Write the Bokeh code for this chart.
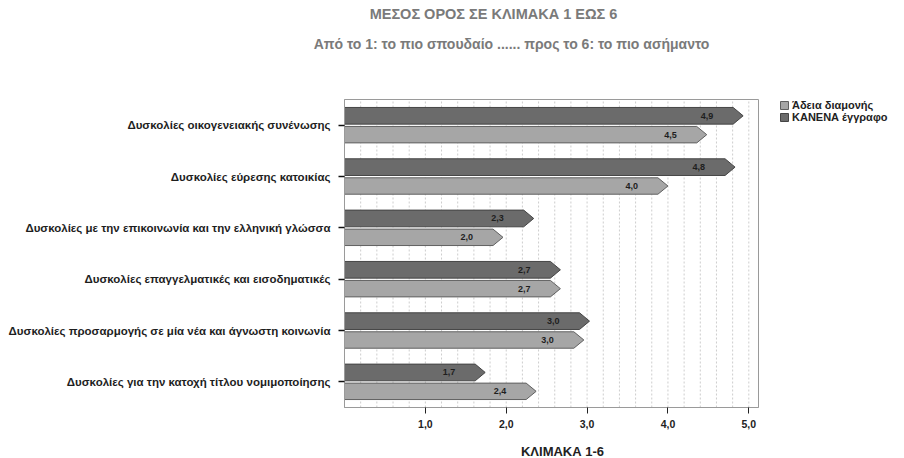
from bokeh.plotting import figure
from bokeh.models import (Range1d, FixedTicker, Legend, LegendItem, Label, ColumnDataSource)
from bokeh.core.properties import value
from bokeh.embed import file_html
from bokeh.resources import INLINE

# ---- data ----
categories = [
    "Δυσκολίες οικογενειακής συνένωσης",
    "Δυσκολίες εύρεσης κατοικίας",
    "Δυσκολίες με την επικοινωνία και την ελληνική γλώσσα",
    "Δυσκολίες επαγγελματικές και εισοδηματικές",
    "Δυσκολίες προσαρμογής σε μία νέα και άγνωστη κοινωνία",
    "Δυσκολίες για την κατοχή τίτλου νομιμοποίησης",
]
series_names = ["Άδεια διαμονής", "ΚΑΝΕΝΑ έγγραφο"]
adeia = [4.48, 4.00, 1.96, 2.67, 2.96, 2.37]
kanena = [4.93, 4.83, 2.34, 2.67, 3.03, 1.74]
x_ticks = [1, 2, 3, 4, 5]
x_tick_labels = ["1,0", "2,0", "3,0", "4,0", "5,0"]
x_minor = [round(0.2 * k, 1) for k in range(1, 26)]
title_text = "ΜΕΣΟΣ ΟΡΟΣ ΣΕ ΚΛΙΜΑΚΑ 1 ΕΩΣ 6"
subtitle_text = "Από το 1: το πιο σπουδαίο  ...... προς το 6: το πιο ασήμαντο"
x_title = "ΚΛΙΜΑΚΑ 1-6"

FONT = "Liberation Sans"
W, H = 904, 458
n = len(categories)
centers = [n - i for i in range(n)]
X_MIN, X_MAX = 0, 5.12
Y_MIN, Y_MAX = 0.5, n + 0.5
# plot area in pixels (frame covers whole canvas; axes are fixed inside it)
PL, PR, PT, PB = 344, 758, 99, 407
sx = (PR - PL) / (X_MAX - X_MIN)
sy = (PB - PT) / (Y_MAX - Y_MIN)
def dx(px):
    return X_MIN + (px - PL) / sx
def dy(py):
    return Y_MIN + (PB - py) / sy

HEAD = 10 / sx

def arrows(vals, y0_off, y1_off):
    xs, ys, tx, ty, tl = [], [], [], [], []
    for c, v in zip(centers, vals):
        yt, yb = c + y0_off, c + y1_off
        ym = (yt + yb) / 2
        xs.append([0, v - HEAD, v, v - HEAD, 0])
        ys.append([yt, yt, ym, yb, yb])
        tx.append(v)
        ty.append(ym)
        tl.append(f"{v:.1f}".replace(".", ","))
    return dict(xs=xs, ys=ys), dict(x=tx, y=ty, t=tl)

p = figure(width=W, height=H, output_backend="svg", toolbar_location=None,
           x_range=Range1d(dx(0), dx(W)), y_range=Range1d(dy(H), dy(0)),
           min_border_left=0, min_border_right=0, min_border_top=0, min_border_bottom=0)
p.outline_line_color = None
p.background_fill_color = "white"
p.border_fill_color = "white"
p.xgrid.grid_line_color = None
p.ygrid.grid_line_color = None

# grid lines (dotted) inside the plot area
p.segment(x0=x_minor, y0=[Y_MIN] * len(x_minor), x1=x_minor, y1=[Y_MAX] * len(x_minor),
          line_color="#cdcdcd", line_dash="2 2", line_width=1)
# plot border
p.quad(left=[X_MIN], right=[X_MAX], bottom=[Y_MIN], top=[Y_MAX], fill_color=None,
       line_color="#9a9a9a", line_width=1)

dark_poly, dark_txt = arrows(kanena, 0.345, 0.02)
light_poly, light_txt = arrows(adeia, -0.025, -0.345)

r_dark = p.patches("xs", "ys", source=ColumnDataSource(dark_poly), fill_color="#6b6b6b",
                   line_color="#454545", line_width=1)
r_light = p.patches("xs", "ys", source=ColumnDataSource(light_poly), fill_color="#a6a6a6",
                    line_color="#606060", line_width=1)
for d in (dark_txt, light_txt):
    p.text("x", "y", text="t", source=ColumnDataSource(d), x_offset=-30, text_align="right",
           text_baseline="middle", text_font=value(FONT), text_font_size="9px",
           text_font_style="bold", text_color="#1e1e1e")

# axes (fixed inside the frame)
xa = p.xaxis[0]
xa.fixed_location = Y_MIN
xa.bounds = (X_MIN, X_MAX)
xa.ticker = FixedTicker(ticks=x_ticks)
xa.major_label_overrides = {t: l for t, l in zip(x_ticks, x_tick_labels)}
xa.axis_line_color = "#9a9a9a"
xa.major_tick_line_color = "#222222"
xa.major_tick_out = 6
xa.major_tick_in = 0
xa.minor_tick_line_color = None
xa.major_label_text_font = FONT
xa.major_label_text_font_size = "10.5px"
xa.major_label_text_font_style = "bold"
xa.major_label_text_color = "#222222"
xa.major_label_standoff = 6

ya = p.yaxis[0]
ya.fixed_location = X_MIN
ya.bounds = (Y_MIN, Y_MAX)
ya.ticker = FixedTicker(ticks=centers)
ya.major_label_overrides = {c: name for c, name in zip(centers, categories)}
ya.axis_line_color = "#9a9a9a"
ya.major_tick_line_color = "#111111"
ya.major_tick_line_width = 1.5
ya.major_tick_out = 6
ya.major_tick_in = 0
ya.minor_tick_line_color = None
ya.major_label_text_font = FONT
ya.major_label_text_font_size = "11.5px"
ya.major_label_text_font_style = "bold"
ya.major_label_text_color = "#1e1e1e"
ya.major_label_standoff = 8

# titles
p.add_layout(Label(x=dx(493), y=dy(13), text=title_text, text_align="center",
                   text_baseline="middle", text_font=FONT, text_font_size="14.5px",
                   text_font_style="bold", text_color="#7a7a7a"))
p.add_layout(Label(x=dx(513), y=dy(43), text=subtitle_text, text_align="center",
                   text_baseline="middle", text_font=FONT, text_font_size="14px",
                   text_font_style="bold", text_color="#7a7a7a"))
p.add_layout(Label(x=dx(562), y=dy(451), text=x_title, text_align="center",
                   text_baseline="middle", text_font=FONT, text_font_size="13px",
                   text_font_style="bold", text_color="#222222"))

legend = Legend(items=[LegendItem(label=series_names[0], renderers=[r_light]),
                       LegendItem(label=series_names[1], renderers=[r_dark])],
                location=(779, 335), border_line_color=None, background_fill_alpha=0,
                glyph_width=10, glyph_height=10, label_height=10, label_standoff=3,
                spacing=0, padding=2, margin=0,
                label_text_font=FONT, label_text_font_size="11px",
                label_text_font_style="bold", label_text_color="#222222")
p.add_layout(legend, "center")

open("out.html", "w").write(file_html(p, INLINE))
